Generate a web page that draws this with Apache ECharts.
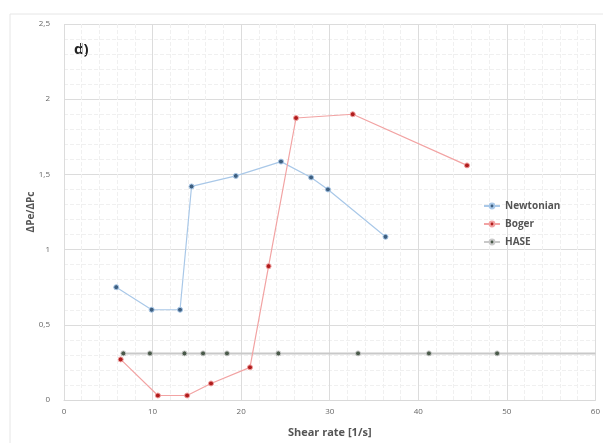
<!DOCTYPE html>
<html>
<head>
<meta charset="utf-8">
<script src="https://cdn.jsdelivr.net/npm/echarts@6/dist/echarts.min.js"></script>
<style>html,body{margin:0;padding:0;background:#fff}#c{width:603px;height:443px}</style>
</head>
<body>
<div id="c"></div>
<script>
const newtonianX = [5.9, 9.9, 13.1, 14.4, 19.4, 24.5, 27.9, 29.8, 36.3];
const newtonianY = [0.75, 0.60, 0.60, 1.42, 1.49, 1.585, 1.48, 1.40, 1.085];
const bogerX = [6.4, 10.6, 13.9, 16.6, 21.0, 23.1, 26.2, 32.6, 45.5];
const bogerY = [0.27, 0.03, 0.03, 0.11, 0.217, 0.89, 1.875, 1.90, 1.56];
const haseX = [6.7, 9.7, 13.6, 15.7, 18.4, 24.2, 33.2, 41.2, 48.9];
const haseY = [0.31, 0.31, 0.31, 0.31, 0.31, 0.31, 0.31, 0.31, 0.31];
const xTicks = [0, 10, 20, 30, 40, 50, 60];
const yTicks = [0, 0.5, 1, 1.5, 2, 2.5];

const zip = (xs, ys) => xs.map((x, i) => [x, ys[i]]);
const font = 'Open Sans';
const xMax = xTicks[xTicks.length - 1];
const haseTail = [[haseX[haseX.length - 1], haseY[haseY.length - 1]], [xMax, haseY[haseY.length - 1]]];
const chart = echarts.init(document.getElementById('c'), null, {renderer: 'canvas'});
chart.setOption({
  backgroundColor: '#fff',
  animation: false,
  textStyle: {fontFamily: font},
  grid: {left: 64, right: 5, top: 24, bottom: 39, containLabel: false},
  graphic: [
    {type: 'rect', shape: {x: 10, y: 14, width: 600, height: 440}, style: {fill: 'none', stroke: '#e6e6e6', lineWidth: 1}, silent: true},
    {type: 'text', left: 74, top: 42, style: {text: 'd)', font: 'bold 15px "Open Sans"', fill: '#222'}}
  ],
  legend: {
    orient: 'vertical', left: 478, top: 196, itemGap: 8, itemWidth: 16, itemHeight: 6,
    textStyle: {fontSize: 10, fontWeight: 'bold', color: '#555', fontFamily: font},
    data: ['Newtonian', 'Boger', 'HASE']
  },
  xAxis: {
    type: 'value', min: xTicks[0], max: xMax, interval: 10,
    name: 'Shear rate [1/s]', nameLocation: 'middle', nameGap: 27, nameMoveOverlap: false,
    nameTextStyle: {fontSize: 11, fontWeight: 'bold', color: '#555', fontFamily: font},
    axisLine: {show: true, lineStyle: {color: '#d9d9d9'}},
    axisTick: {show: false},
    axisLabel: {fontSize: 8, color: '#666', margin: 8},
    splitLine: {show: true, lineStyle: {color: '#dcdcdc', width: 1}},
    minorTick: {show: false, splitNumber: 5},
    minorSplitLine: {show: true, lineStyle: {color: '#f0f0f0', type: 'dashed'}}
  },
  yAxis: {
    type: 'value', min: yTicks[0], max: yTicks[yTicks.length - 1], interval: 0.5,
    name: 'ΔPe/ΔPc', nameLocation: 'middle', nameGap: 28, nameRotate: 90, nameMoveOverlap: false,
    nameTextStyle: {fontSize: 10, fontWeight: 'bold', color: '#555', fontFamily: font},
    axisLine: {show: false},
    axisTick: {show: false},
    axisLabel: {fontSize: 8, color: '#666', margin: 14, formatter: v => String(v).replace('.', ',')},
    splitLine: {show: true, lineStyle: {color: '#dcdcdc', width: 1}},
    minorTick: {show: false, splitNumber: 5},
    minorSplitLine: {show: true, lineStyle: {color: '#f0f0f0', type: 'dashed'}}
  },
  series: [
    {
      type: 'line', data: haseTail, symbol: 'none', z: 1, silent: true,
      lineStyle: {color: '#c9c9c9', width: 2}
    },
    {
      name: 'Newtonian', type: 'line', data: zip(newtonianX, newtonianY), z: 3,
      symbol: 'circle', symbolSize: 5,
      lineStyle: {color: '#a9c8e8', width: 1.2},
      itemStyle: {color: '#3e5f80', borderColor: '#a9c8e8', borderWidth: 1}
    },
    {
      name: 'Boger', type: 'line', data: zip(bogerX, bogerY), z: 3,
      symbol: 'circle', symbolSize: 5,
      lineStyle: {color: '#f2a3a3', width: 1.2},
      itemStyle: {color: '#b01c1c', borderColor: '#f2a3a3', borderWidth: 1}
    },
    {
      name: 'HASE', type: 'line', data: zip(haseX, haseY), z: 2,
      symbol: 'circle', symbolSize: 5,
      lineStyle: {color: '#c9c9c9', width: 2},
      itemStyle: {color: '#4a5a4a', borderColor: '#c9c9c9', borderWidth: 1}
    }
  ]
});
</script>
</body>
</html>
